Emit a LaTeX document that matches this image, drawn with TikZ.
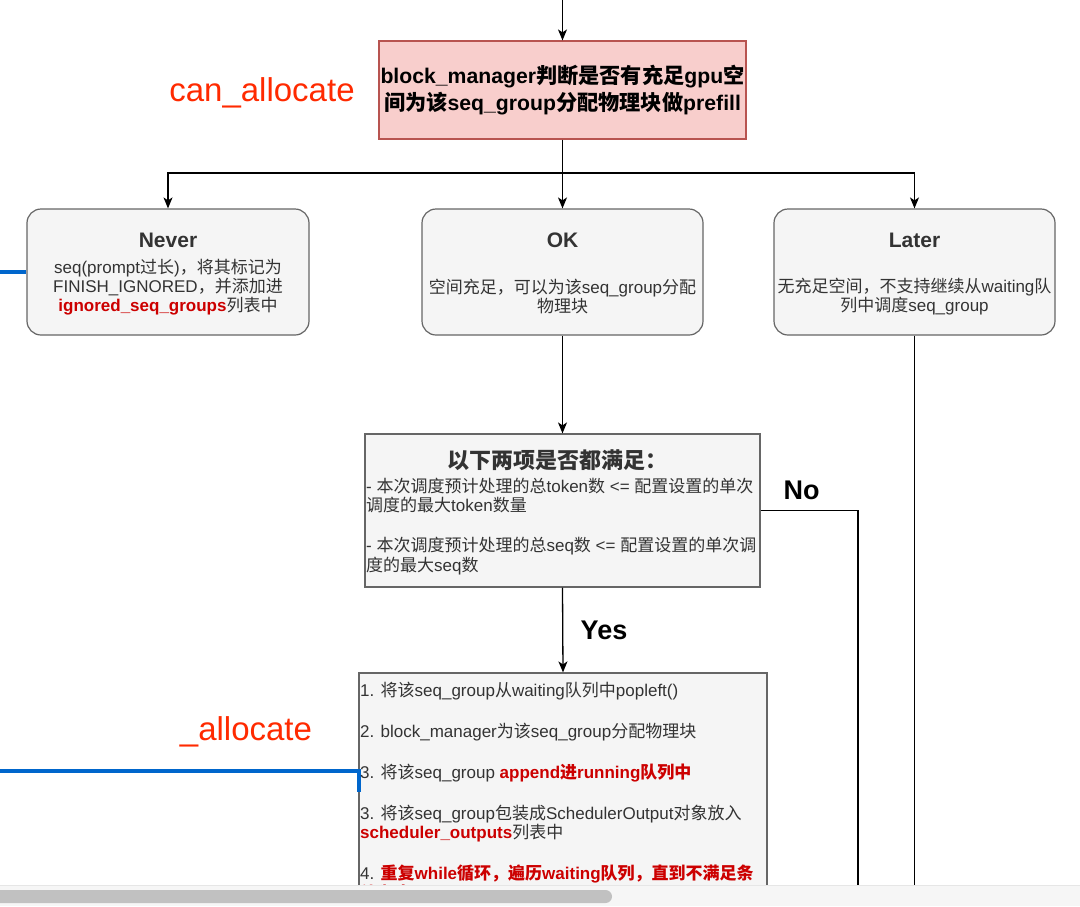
\documentclass[tikz,border=0pt]{standalone}
\usepackage{fontspec}
\setmainfont{Liberation Sans}
\newfontfamily\cjkfam{Noto Sans CJK SC}
\usetikzlibrary{arrows.meta,calc}
\newXeTeXintercharclass\cjkcls
\newcount\cjkc
\def\setcjkrange#1#2{\cjkc=#1 \loop \XeTeXcharclass\cjkc=\cjkcls \ifnum\cjkc<#2 \advance\cjkc by 1 \repeat}
\setcjkrange{"3000}{"303F}
\setcjkrange{"4E00}{"9FFF}
\setcjkrange{"FF00}{"FFEF}
\XeTeXinterchartoks 0 \cjkcls = {\cjkfam}
\XeTeXinterchartoks 4095 \cjkcls = {\cjkfam}
\XeTeXinterchartoks \cjkcls 0 = {\rmfamily}
\XeTeXinterchartoks \cjkcls 4095 = {\rmfamily}
\XeTeXinterchartoks 4095 0 = {\rmfamily}
\XeTeXinterchartokenstate=1
\definecolor{boxgray}{HTML}{666666}
\definecolor{boxfill}{HTML}{F5F5F5}
\definecolor{pinkfill}{HTML}{F8CECC}
\definecolor{pinkline}{HTML}{B85450}
\definecolor{bodytxt}{HTML}{333333}
\definecolor{boxred}{HTML}{CC0000}
\definecolor{labred}{HTML}{FF2A00}
\definecolor{blueline}{HTML}{0066CC}
\definecolor{sbbg}{HTML}{F6F6F6}
\definecolor{sbedge}{HTML}{E6E6E6}
\definecolor{sbthumb}{HTML}{C1C1C1}
\tikzset{
  conn/.style={line width=1.3pt, draw=black},
  arr/.style={conn, -{Stealth[length=11pt,width=9pt,inset=3pt]}},
  graybox/.style={draw=boxgray, fill=boxfill, line width=1.2pt, inner sep=0pt},
  rbox/.style={graybox, rounded corners=14pt},
  pinkbox/.style={draw=pinkline, fill=pinkfill, line width=1.2pt, inner sep=0pt},
  body/.style={inner sep=0pt, text=bodytxt, font=\fontsize{17}{19.2}\selectfont},
  ttl/.style={inner sep=0pt, text=bodytxt, font=\fontsize{21}{24}\selectfont\bfseries},
  bigred/.style={inner sep=0pt, text=labred, font=\fontsize{33}{36}\selectfont},
  yn/.style={inner sep=0pt, text=black, font=\fontsize{27}{30}\selectfont\bfseries},
  blueln/.style={draw=blueline, line width=3.5pt},
  lline/.style={body, anchor=base west},
}
\newcommand{\rb}[1]{{\color{boxred}\bfseries #1}}
\begin{document}
\begin{tikzpicture}[x=1pt,y=-1pt]
\useasboundingbox (0,0) rectangle (1080,906);
\clip (0,0) rectangle (1080,906);
\fill[white] (0,0) rectangle (1080,906);

% boxes
\node[pinkbox, minimum width=367pt, minimum height=98pt, align=center,
      font=\fontsize{21.2}{26.5}\selectfont\bfseries] (pink) at (562.5,90)
  {block\_manager判断是否有充足gpu空\\间为该seq\_group分配物理块做prefill};
\node[rbox, minimum width=282pt, minimum height=126pt] (never) at (168,272) {};
\node[rbox, minimum width=281pt, minimum height=126pt] (ok) at (562.5,272) {};
\node[rbox, minimum width=281pt, minimum height=126pt] (later) at (914.5,272) {};
\node[graybox, minimum width=395pt, minimum height=153pt] (cond) at (562.5,510.5) {};
\node[graybox, minimum width=408pt, minimum height=227pt] (act) at (563,786.5) {};

% side labels
\node[bigred] (lcan) at (262,93) {can\_allocate};
\node[bigred] (lalloc) at (246,732) {\_allocate};
\node[yn] (lno) at (801.5,490) {No};
\node[yn] (lyes) at (604,630) {Yes};

% connectors
\coordinate (topin) at (562.5,0);
\coordinate (split) at (562.5,173);
\draw[arr] (topin) -- (pink.north);
\draw[conn] (pink.south) -- (split);
\draw[arr] (split) -| (never.north);
\draw[arr] (split) -- (ok.north);
\draw[arr] (split) -| (later.north);
\draw[arr] (ok.south) -- (cond.north);
\draw[arr] (cond.south) -- (act.north);
\coordinate (noend) at (858,900);
\draw[conn] (cond.east) -| (noend);
\coordinate (laterend) at (914.5,900);
\draw[conn] (later.south) -- (laterend);

% blue lines
\coordinate (bl1) at (0,272);
\draw[blueln] (bl1) -- (never.west);
\coordinate (bl2) at (0,771);
\coordinate (bl2e) at (359,792);
\draw[blueln] (bl2) -| (bl2e);

% Never / OK / Later texts
\node[ttl] (nevert) at (168,240) {Never};
\node[body, align=center] (neverb) at (168,287)
  {seq(prompt过长)，将其标记为\\FINISH\_IGNORED，并添加进\\\rb{ignored\_seq\_groups}列表中};
\node[ttl] (okt) at (562.5,240) {OK};
\node[body, align=center] (okb) at (562.5,296.5)
  {空间充足，可以为该seq\_group分配\\物理块};
\node[ttl] (latert) at (914.5,240) {Later};
\node[body, align=center] (laterb) at (914.5,296.5)
  {无充足空间，不支持继续从waiting队\\列中调度seq\_group};

% condition texts
\node[ttl, font=\fontsize{22}{24}\selectfont\bfseries] (condt) at (557,460) {以下两项是否都满足：};
\node[lline] (c1) at (366,492.4) {- 本次调度预计处理的总token数 <= 配置设置的单次};
\node[lline] (c2) at (366,511.4) {调度的最大token数量};
\node[lline] (c3) at (366,551.4) {- 本次调度预计处理的总seq数 <= 配置设置的单次调};
\node[lline] (c4) at (366,571.4) {度的最大seq数};

% action texts
\node[lline] (a1) at (360,696.4) {1. 将该seq\_group从waiting队列中popleft()};
\node[lline] (a2) at (360,737.4) {2. block\_manager为该seq\_group分配物理块};
\node[lline] (a3) at (360,778.4) {3. 将该seq\_group \rb{append进running队列中}};
\node[lline] (a4) at (360,819.4) {3. 将该seq\_group包装成SchedulerOutput对象放入};
\node[lline] (a5) at (360,838.4) {\rb{scheduler\_outputs}列表中};
\node[lline] (a6) at (360,879.4) {4. \rb{重复while循环，遍历waiting队列，直到不满足条}};
\node[lline] (a7) at (360,899.4) {\rb{件为止}};

% scrollbar
\fill[sbbg] (0,885) rectangle (1080,906);
\draw[sbedge, line width=0.8pt] (0,885) -- (1080,885);
\fill[sbthumb, rounded corners=6.5pt] (-20,890) rectangle (612,903);
\end{tikzpicture}
\end{document}
